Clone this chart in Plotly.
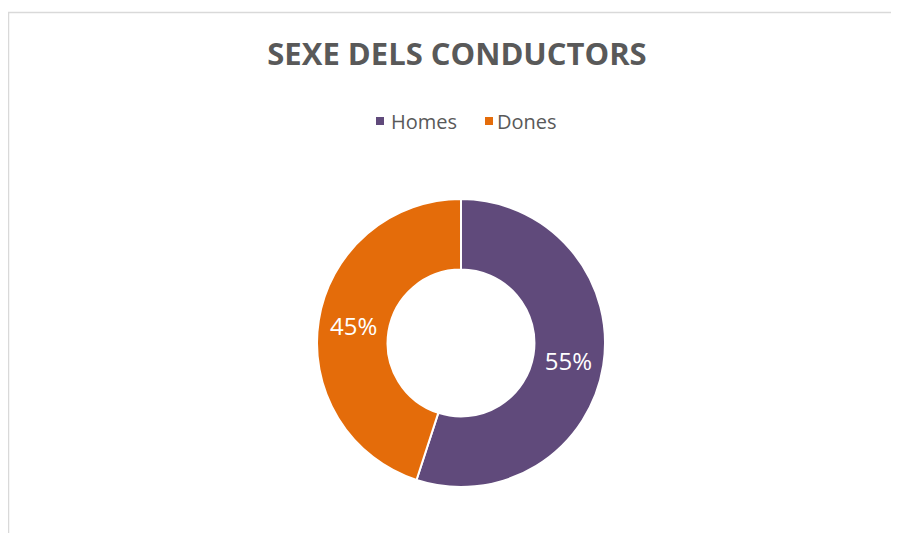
import plotly.graph_objects as go

# dades del grafic
categories = ["Homes", "Dones"]
values = [55, 45]
colors = ["#604a7b", "#e46c0a"]
title = "SEXE DELS CONDUCTORS"

# la pagina te un marge de 8px, la figura ocupa la resta de la finestra
W, H = 891, 525

fig = go.Figure()
fig.add_trace(go.Pie(
    labels=categories,
    values=values,
    hole=0.51,
    sort=False,
    direction="clockwise",
    rotation=0,
    marker=dict(colors=colors, line=dict(color="white", width=2)),
    texttemplate="%{percent:.0%}",
    textposition="inside",
    insidetextorientation="horizontal",
    textfont=dict(family="Open Sans", size=24, color="white"),
    domain=dict(x=[309 / W, 597 / W], y=[1 - 479 / H, 1 - 191 / H]),
    hoverinfo="label+percent",
    showlegend=False,
))

# llegenda feta a ma (quadrat + text) per acostar-la a l'original
legend_sq = [368, 477]
legend_tx = [381, 487]
shapes = [dict(type="rect", xref="paper", yref="paper",
               x0=0.5 / W, x1=1.2, y0=-0.2, y1=1 - 4.5 / H,
               line=dict(color="#d9d9d9", width=1.5))]
annotations = []
for cat, col, sx, tx in zip(categories, colors, legend_sq, legend_tx):
    shapes.append(dict(type="rect", xref="paper", yref="paper",
                       x0=sx / W, x1=(sx + 8) / W, y0=1 - 117 / H, y1=1 - 109 / H,
                       fillcolor=col, line=dict(width=0)))
    annotations.append(dict(text=cat, xref="paper", yref="paper",
                            x=tx / W, y=1 - 113 / H, xanchor="left", yanchor="middle",
                            showarrow=False,
                            font=dict(family="Open Sans", size=20, color="#595959")))

fig.update_layout(
    width=W, height=H,
    margin=dict(l=0, r=0, t=0, b=0),
    paper_bgcolor="white",
    title=dict(text="<b>" + title + "</b>", x=449 / W, xanchor="center",
               y=1 - 46 / H, yanchor="middle",
               font=dict(family="Open Sans", size=31, color="#595959")),
    shapes=shapes,
    annotations=annotations,
)

fig.write_html("out.html")
